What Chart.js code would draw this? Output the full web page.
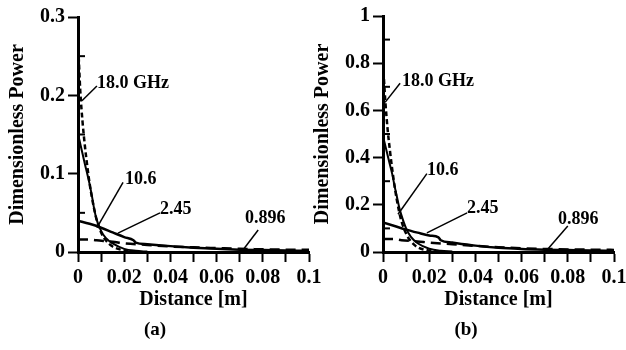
<!DOCTYPE html>
<html>
<head>
<meta charset="utf-8">
<script src="https://cdn.jsdelivr.net/npm/chart.js@4.4.0/dist/chart.umd.min.js"></script>
<style>
  body { margin: 0; background: #fff; }
  #wrap { position: relative; width: 626px; height: 350px; overflow: hidden; }
  canvas { position: absolute; top: 0; }
  #chartA { left: 0; }
  #chartB { left: 305px; }
  .cap { position: absolute; top: 318px; width: 40px; text-align: center; font: bold 19px "Liberation Serif", serif; }
</style>
</head>
<body>
<div id="wrap">
  <canvas id="chartA" width="322" height="350"></canvas>
  <canvas id="chartB" width="321" height="350"></canvas>
  <div class="cap" style="left:135px">(a)</div>
  <div class="cap" style="left:446px">(b)</div>
</div>
<script>
// distances [m] for each curve
const dist18 = [0, 0.001, 0.002, 0.003, 0.004, 0.005, 0.006, 0.007, 0.008, 0.01, 0.012, 0.015, 0.02, 0.025];
const dist106 = [0, 0.001, 0.002, 0.003, 0.004, 0.005, 0.006, 0.007, 0.008, 0.01, 0.012, 0.015, 0.02, 0.025, 0.03];
const dist245 = [0, 0.005, 0.01, 0.015, 0.02, 0.024, 0.025, 0.03, 0.04, 0.05, 0.06, 0.07, 0.08, 0.09, 0.1];
const dist896 = [0, 0.005, 0.008, 0.015, 0.02, 0.03, 0.04, 0.05, 0.06, 0.07, 0.08, 0.09, 0.1];

// panel (a)
const powA18 = [0.27, 0.205, 0.165, 0.135, 0.11, 0.088, 0.07, 0.055, 0.042, 0.025, 0.015, 0.007, 0.002, 0.0007];
const powA106 = [0.15, 0.138, 0.125, 0.112, 0.1, 0.087, 0.072, 0.055, 0.042, 0.027, 0.018, 0.011, 0.004, 0.0015, 0.0005];
const powA245 = [0.04, 0.036, 0.031, 0.025, 0.019, 0.015, 0.012, 0.01, 0.0075, 0.0055, 0.004, 0.003, 0.0025, 0.002, 0.0015];
const powA896 = [0.016, 0.016, 0.015, 0.013, 0.011, 0.009, 0.007, 0.006, 0.005, 0.004, 0.0035, 0.003, 0.003];

// panel (b)
const powB18 = [0.8, 0.64, 0.52, 0.43, 0.35, 0.28, 0.22, 0.17, 0.13, 0.078, 0.046, 0.02, 0.006, 0.002];
const powB106 = [0.49, 0.45, 0.41, 0.37, 0.33, 0.28, 0.235, 0.19, 0.155, 0.1, 0.065, 0.037, 0.014, 0.005, 0.002];
const powB245 = [0.125, 0.11, 0.095, 0.082, 0.07, 0.062, 0.05, 0.04, 0.027, 0.018, 0.013, 0.01, 0.008, 0.006, 0.005];
const powB896 = [0.055, 0.055, 0.05, 0.045, 0.04, 0.033, 0.026, 0.02, 0.016, 0.013, 0.011, 0.01, 0.009];

const freqLabels = ["18.0 GHz", "10.6", "2.45", "0.896"];

const font = { family: '"Liberation Serif", "Times New Roman", serif', size: 20, weight: 'bold' };
const fmt = v => String(+v.toFixed(2));

function pts(xs, ys) {
  return xs.map((x, i) => ({ x: x, y: ys[i] }));
}

// draws the inner minor ticks and the leader-line labels
const curveLabels = {
  id: 'curveLabels',
  afterDatasetsDraw(chart, args, opts) {
    const { ctx, scales: { x, y } } = chart;
    ctx.save();
    ctx.strokeStyle = '#000';
    ctx.lineWidth = 2;
    y.ticks.forEach((t, i) => {
      if (i % 2 === 0) return;
      const py = y.getPixelForValue(t.value);
      ctx.beginPath();
      ctx.moveTo(x.left, py);
      ctx.lineTo(x.left + 7, py);
      ctx.stroke();
    });
    ctx.font = 'bold 18px "Liberation Serif", serif';
    ctx.fillStyle = '#000';
    ctx.textBaseline = 'middle';
    ctx.lineWidth = 1.5;
    opts.labels.forEach(l => {
      ctx.beginPath();
      ctx.moveTo(x.getPixelForValue(l.from[0]), y.getPixelForValue(l.from[1]));
      ctx.lineTo(x.getPixelForValue(l.to[0]), y.getPixelForValue(l.to[1]));
      ctx.stroke();
      ctx.fillText(l.text, x.getPixelForValue(l.at[0]), y.getPixelForValue(l.at[1]));
    });
    ctx.restore();
  }
};

function makePanel(id, series, yMax, yStep, labels, pad) {
  const styles = [
    { borderDash: [5, 3], borderWidth: 2.5 },
    { borderDash: [], borderWidth: 2 },
    { borderDash: [], borderWidth: 2.5 },
    { borderDash: [10, 6], borderWidth: 2.5 }
  ];
  new Chart(document.getElementById(id), {
    type: 'line',
    data: {
      datasets: series.map((s, i) => ({
        label: freqLabels[i],
        data: s,
        borderColor: '#000',
        borderWidth: styles[i].borderWidth,
        borderDash: styles[i].borderDash,
        pointRadius: 0,
        cubicInterpolationMode: 'monotone',
        fill: false
      }))
    },
    options: {
      responsive: false,
      animation: false,
      layout: { padding: { left: 0, right: pad.right, top: pad.top, bottom: 38 } },
      plugins: {
        legend: { display: false },
        tooltip: { enabled: false },
        curveLabels: { labels: labels }
      },
      scales: {
        x: {
          type: 'linear', min: 0, max: 0.1,
          ticks: { stepSize: 0.01, autoSkip: false, maxRotation: 0, padding: 4, font: font, color: '#000',
            callback: (v, i) => (i % 2 ? '' : fmt(v)) },
          grid: { drawOnChartArea: false, tickLength: 10, tickWidth: 2, tickColor: '#000' },
          border: { color: '#000', width: 3 },
          title: { display: true, text: 'Distance [m]', font: font, color: '#000', padding: 0 },
          afterFit: s => { s.height = 60; s.paddingLeft = 0; s.paddingRight = 0; }
        },
        y: {
          min: 0, max: yMax,
          ticks: { stepSize: yStep, autoSkip: false, padding: 3, font: font, color: '#000',
            callback: (v, i) => (i % 2 ? '' : fmt(v)) },
          grid: { drawOnChartArea: false, tickLength: 10, tickWidth: 2,
            tickColor: c => (c.index % 2 ? 'rgba(0,0,0,0)' : '#000') },
          border: { color: '#000', width: 3 },
          title: { display: true, text: 'Dimensionless Power', font: font, color: '#000', padding: { top: 6, bottom: 0 } },
          afterFit: s => { s.width = 78; s.paddingTop = 0; s.paddingBottom = 0; }
        }
      }
    },
    plugins: [curveLabels]
  });
}

makePanel('chartA',
  [pts(dist18, powA18), pts(dist106, powA106), pts(dist245, powA245), pts(dist896, powA896)],
  0.3, 0.05,
  [
    { text: freqLabels[0], at: [0.0082, 0.215], from: [0.0082, 0.212], to: [0.0017, 0.193] },
    { text: freqLabels[1], at: [0.0203, 0.093], from: [0.0195, 0.089], to: [0.0082, 0.031] },
    { text: freqLabels[2], at: [0.0355, 0.054], from: [0.0355, 0.05], to: [0.0173, 0.024] },
    { text: freqLabels[3], at: [0.0723, 0.043], from: [0.078, 0.028], to: [0.071, 0.001] }
  ],
  { right: 13, top: 17 });

makePanel('chartB',
  [pts(dist18, powB18), pts(dist106, powB106), pts(dist245, powB245), pts(dist896, powB896)],
  1, 0.1,
  [
    { text: freqLabels[0], at: [0.0082, 0.723], from: [0.0074, 0.715], to: [0.0009, 0.634] },
    { text: freqLabels[1], at: [0.019, 0.345], from: [0.019, 0.332], to: [0.0065, 0.16] },
    { text: freqLabels[2], at: [0.0364, 0.183], from: [0.0364, 0.166], to: [0.019, 0.081] },
    { text: freqLabels[3], at: [0.0758, 0.14], from: [0.080, 0.11], to: [0.071, 0.008] }
  ],
  { right: 12, top: 16 });
</script>
</body>
</html>
